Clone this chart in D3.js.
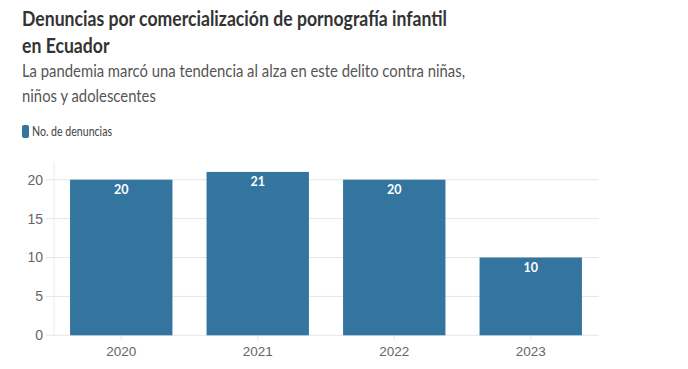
<!DOCTYPE html>
<html><head><meta charset="utf-8">
<script src="https://cdn.jsdelivr.net/npm/d3@7"></script>
<style>
body{margin:0;background:#fff;}
svg{display:block;font-family:"Source Sans Pro","Lato","Open Sans",sans-serif;}
</style></head>
<body>
<svg id="chart" width="688" height="369"></svg>
<script>
const years = ["2020","2021","2022","2023"];
const denuncias = [20,21,20,10];
const yTicks = [0,5,10,15,20];
const titleLines = ["Denuncias por comercialización de pornografía infantil","en Ecuador"];
const subtitleLines = ["La pandemia marcó una tendencia al alza en este delito contra niñas,","niños y adolescentes"];
const legendLabel = "No. de denuncias";

const svg = d3.select("#chart");
const barColor = "#33759f";

function squeeze(sel, target){
  const w = sel.node().getComputedTextLength();
  if (w > target) sel.attr("textLength", target).attr("lengthAdjust","spacingAndGlyphs");
  return w/target;
}

// Title
const t1 = svg.append("text").attr("x",22).attr("y",26).attr("font-size",21).attr("font-weight",700).attr("fill","#333").text(titleLines[0]);
const r1 = squeeze(t1, 425);
const t2 = svg.append("text").attr("x",22).attr("y",53).attr("font-size",21).attr("font-weight",700).attr("fill","#333").text(titleLines[1]);
squeeze(t2, t2.node().getComputedTextLength()/r1);

const s1 = svg.append("text").attr("x",22).attr("y",77).attr("font-size",18).attr("fill","#555").text(subtitleLines[0]);
const r2 = squeeze(s1, 443);
const s2 = svg.append("text").attr("x",22).attr("y",102).attr("font-size",18).attr("fill","#555").text(subtitleLines[1]);
squeeze(s2, s2.node().getComputedTextLength()/r2);

// Legend
svg.append("rect").attr("x",22).attr("y",125).attr("width",7).attr("height",13).attr("rx",2).attr("fill",barColor);
const lg = svg.append("text").attr("x",32).attr("y",136).attr("font-size",13.5).attr("fill","#444").text(legendLabel);
squeeze(lg, 80);

// Chart
const x = d3.scaleBand().domain(years).range([53,599]).paddingInner(0.25).paddingOuter(0.125);
const y = d3.scaleLinear().domain([0,20]).range([335.3,179.7]);

const grid = svg.append("g");
grid.selectAll("line").data(yTicks).join("line")
  .attr("x1",46).attr("x2",599).attr("y1",d=>y(d)).attr("y2",d=>y(d))
  .attr("stroke","#e6e6e6").attr("stroke-width",1);
svg.append("line").attr("x1",54).attr("x2",54).attr("y1",162).attr("y2",335.3).attr("stroke","#eaeaea");

const yAxis = svg.append("g").attr("transform","translate(54,0)")
  .call(d3.axisLeft(y).tickValues(yTicks).tickSize(0).tickPadding(11));
yAxis.select(".domain").remove();
yAxis.selectAll("text").attr("font-size",14).attr("fill","#666").attr("font-family","inherit");

const xAxis = svg.append("g").attr("transform","translate(0,335.3)")
  .call(d3.axisBottom(x).tickSize(5).tickPadding(6));
xAxis.select(".domain").remove();
xAxis.selectAll("line").attr("stroke","#e6e6e6");
xAxis.selectAll("text").attr("font-size",13.5).attr("fill","#666").attr("font-family","inherit");

svg.append("g").selectAll("rect").data(years).join("rect")
  .attr("x",d=>x(d)).attr("width",x.bandwidth())
  .attr("y",(d,i)=>y(denuncias[i])).attr("height",(d,i)=>y(0)-y(denuncias[i]))
  .attr("fill",barColor);

svg.append("g").selectAll("text").data(years).join("text")
  .attr("x",d=>x(d)+x.bandwidth()/2).attr("y",(d,i)=>y(denuncias[i])+14)
  .attr("text-anchor","middle").attr("font-size",12.5).attr("font-weight",700).attr("fill","#fff")
  .text((d,i)=>denuncias[i]);
</script>
</body></html>
